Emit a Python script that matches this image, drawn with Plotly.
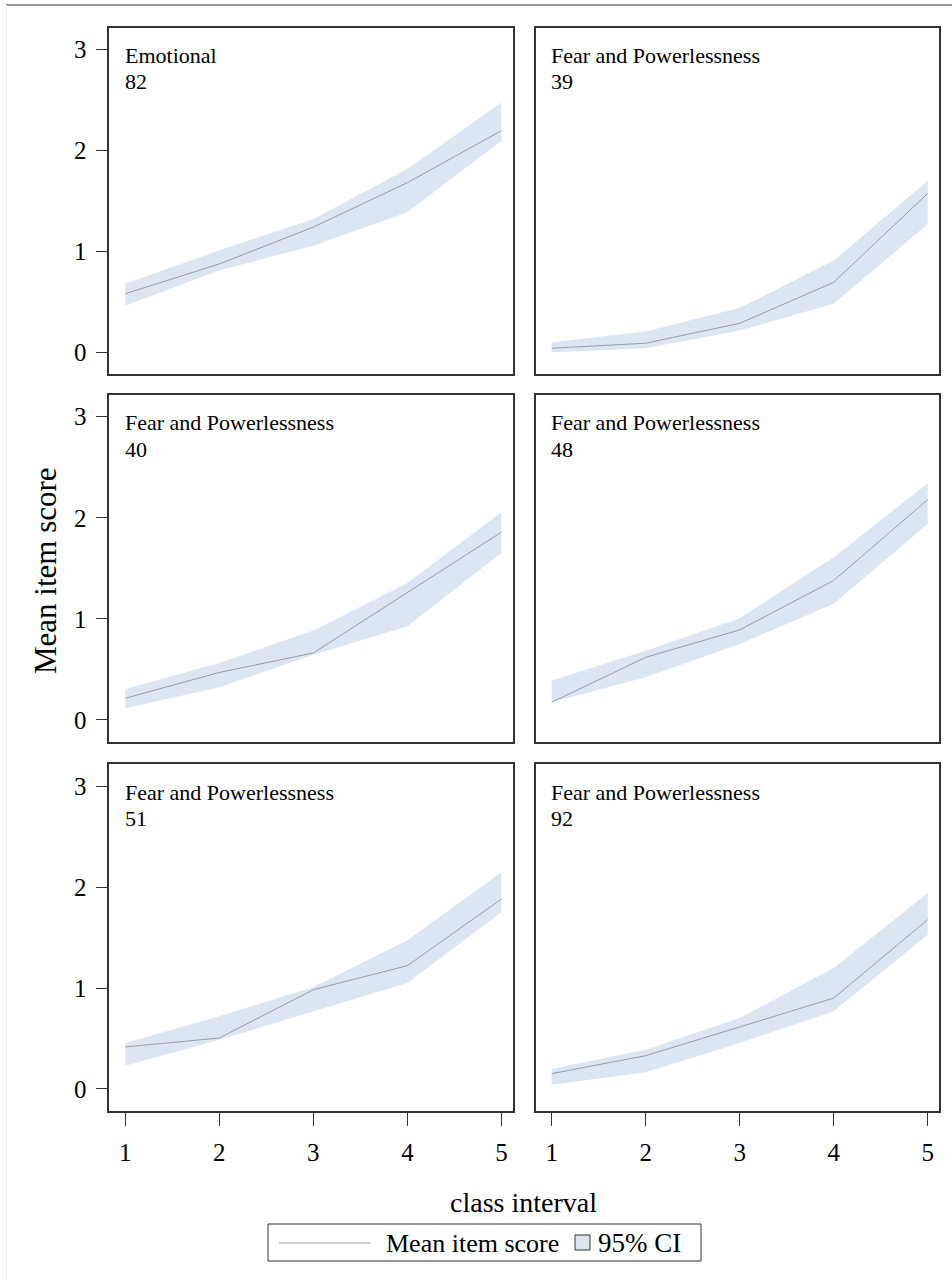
import plotly.graph_objects as go

# ---------------- data ----------------
classes = [1, 2, 3, 4, 5]
x_tick_labels = ["1", "2", "3", "4", "5"]
y_tick_vals = [0, 1, 2, 3]

panel_groups = ["Emotional", "Fear and Powerlessness", "Fear and Powerlessness",
                "Fear and Powerlessness", "Fear and Powerlessness", "Fear and Powerlessness"]
panel_items = ["82", "39", "40", "48", "51", "92"]

mean_82 = [0.58, 0.875, 1.24, 1.68, 2.195]
lower_82 = [0.46, 0.81, 1.056, 1.386, 2.096]
upper_82 = [0.68, 1.01, 1.32, 1.815, 2.475]

mean_39 = [0.04, 0.09, 0.287, 0.693, 1.574]
lower_39 = [0.0, 0.04, 0.215, 0.48, 1.27]
upper_39 = [0.10, 0.205, 0.44, 0.908, 1.70]

mean_40 = [0.215, 0.47, 0.663, 1.264, 1.858]
lower_40 = [0.115, 0.323, 0.644, 0.927, 1.653]
upper_40 = [0.307, 0.564, 0.884, 1.356, 2.056]

mean_48 = [0.175, 0.62, 0.891, 1.38, 2.18]
lower_48 = [0.175, 0.422, 0.752, 1.149, 1.94]
upper_48 = [0.39, 0.686, 1.007, 1.61, 2.343]

mean_51 = [0.416, 0.505, 0.983, 1.221, 1.881]
lower_51 = [0.231, 0.488, 0.769, 1.05, 1.749]
upper_51 = [0.455, 0.72, 1.01, 1.472, 2.145]

mean_92 = [0.152, 0.33, 0.614, 0.90, 1.677]
lower_92 = [0.043, 0.165, 0.455, 0.769, 1.528]
upper_92 = [0.198, 0.389, 0.703, 1.198, 1.94]

means = [mean_82, mean_39, mean_40, mean_48, mean_51, mean_92]
lowers = [lower_82, lower_39, lower_40, lower_48, lower_51, lower_92]
uppers = [upper_82, upper_39, upper_40, upper_48, upper_51, upper_92]

legend_line_label = "Mean item score"
legend_band_label = "95% CI"
x_title = "class interval"
y_title = "Mean item score"

# ---------------- style ----------------
W, H = 952, 1280
FONT = "Liberation Serif"
BAND = "#dce6f2"
LINE = "#9a9ca4"
FRAME = "#333333"


def fx(px):
    return px / W


def fy(py):
    return 1 - py / H


col_px = [(109.3, 512.7), (535.7, 939.0)]
row_px = [(27.7, 374.0), (395.0, 741.7), (764.3, 1110.7)]
x_range = [0.83, 5.12]
y_range = [-0.215, 3.215]

fig = go.Figure()
layout = dict(
    width=W, height=H,
    margin=dict(l=0, r=0, t=0, b=0),
    paper_bgcolor="white", plot_bgcolor="white",
    showlegend=False,
    font=dict(family=FONT, color="black"),
)

annotations = []
shapes = []

for i in range(6):
    r, c = divmod(i, 2)
    n = i + 1
    xa = "x" if n == 1 else f"x{n}"
    ya = "y" if n == 1 else f"y{n}"
    xl, xr = col_px[c]
    yt, yb = row_px[r]

    # CI band as closed polygon
    fig.add_trace(go.Scatter(
        x=classes + classes[::-1],
        y=uppers[i] + lowers[i][::-1],
        fill="toself", fillcolor=BAND, line=dict(width=0),
        mode="lines", hoverinfo="skip", xaxis=xa, yaxis=ya,
    ))
    fig.add_trace(go.Scatter(
        x=classes, y=means[i], mode="lines",
        line=dict(color=LINE, width=1), xaxis=xa, yaxis=ya,
    ))

    bottom = (r == 2)
    left = (c == 0)
    layout["xaxis" if n == 1 else f"xaxis{n}"] = dict(
        domain=[fx(xl), fx(xr)], range=x_range, anchor=ya,
        showgrid=False, zeroline=False,
        showline=True, mirror=True, linecolor=FRAME, linewidth=1.5,
        tickvals=classes, ticktext=x_tick_labels,
        ticks="outside" if bottom else "", ticklen=14, tickwidth=1, tickcolor=FRAME,
        showticklabels=bottom, ticklabelstandoff=5,
        tickfont=dict(family=FONT, size=25, color="black"),
    )
    layout["yaxis" if n == 1 else f"yaxis{n}"] = dict(
        domain=[fy(yb), fy(yt)], range=y_range, anchor=xa,
        showgrid=False, zeroline=False,
        showline=True, mirror=True, linecolor=FRAME, linewidth=1.5,
        tickvals=y_tick_vals,
        ticks="outside" if left else "", ticklen=12, tickwidth=1, tickcolor=FRAME,
        showticklabels=left, ticklabelstandoff=4,
        tickfont=dict(family=FONT, size=25, color="black"),
    )

    # panel labels
    annotations.append(dict(
        xref="paper", yref="paper", x=fx(xl + 13.5), y=fy(yt + 13.5),
        xanchor="left", yanchor="top", showarrow=False,
        text=panel_groups[i], font=dict(family=FONT, size=22, color="black"),
    ))
    annotations.append(dict(
        xref="paper", yref="paper", x=fx(xl + 13.5), y=fy(yt + 39.5),
        xanchor="left", yanchor="top", showarrow=False,
        text=panel_items[i], font=dict(family=FONT, size=22, color="black"),
    ))

# axis titles
annotations.append(dict(
    xref="paper", yref="paper", x=fx(45), y=fy(571),
    xanchor="center", yanchor="middle", textangle=-90, showarrow=False,
    text=y_title, font=dict(family=FONT, size=31, color="black"),
))
annotations.append(dict(
    xref="paper", yref="paper", x=fx(523), y=fy(1202),
    xanchor="center", yanchor="middle", showarrow=False,
    text=x_title, font=dict(family=FONT, size=28, color="black"),
))

# legend (drawn)
shapes.append(dict(type="rect", xref="paper", yref="paper",
                   x0=fx(268), x1=fx(701), y0=fy(1261), y1=fy(1224),
                   line=dict(color=FRAME, width=1), fillcolor="white"))
shapes.append(dict(type="line", xref="paper", yref="paper",
                   x0=fx(279), x1=fx(370), y0=fy(1243), y1=fy(1243),
                   line=dict(color=LINE, width=1)))
shapes.append(dict(type="rect", xref="paper", yref="paper",
                   x0=fx(575), x1=fx(590), y0=fy(1250), y1=fy(1235),
                   line=dict(color=FRAME, width=1), fillcolor=BAND))
annotations.append(dict(
    xref="paper", yref="paper", x=fx(384), y=fy(1243),
    xanchor="left", yanchor="middle", showarrow=False,
    text=legend_line_label, font=dict(family=FONT, size=26, color="black"),
))
annotations.append(dict(
    xref="paper", yref="paper", x=fx(596), y=fy(1243),
    xanchor="left", yanchor="middle", showarrow=False,
    text=legend_band_label, font=dict(family=FONT, size=27, color="black"),
))

# outer frame lines
shapes.append(dict(type="line", xref="paper", yref="paper",
                   x0=fx(6), x1=fx(952), y0=fy(5), y1=fy(5),
                   line=dict(color="#777777", width=1.5)))
shapes.append(dict(type="line", xref="paper", yref="paper",
                   x0=fx(6.5), x1=fx(6.5), y0=fy(5), y1=fy(1280),
                   line=dict(color="#eeeeee", width=1)))

layout["annotations"] = annotations
layout["shapes"] = shapes
fig.update_layout(**layout)

fig.write_html("out.html")
